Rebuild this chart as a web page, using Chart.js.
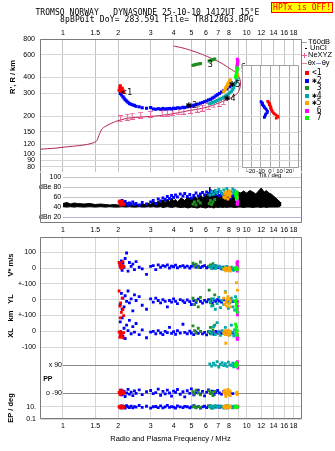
<!DOCTYPE html>
<html>
<head>
<meta charset="utf-8">
<title>Tromso dynasonde ionogram</title>
<script src="https://cdn.jsdelivr.net/npm/chart.js@4.4.1/dist/chart.umd.min.js"></script>
<style>
  html, body { margin:0; padding:0; background:#fff; }
  #page { position:relative; width:335px; height:451px; overflow:hidden; background:#fff; }
  #page canvas { position:absolute; left:0; top:0; }
  .txt { position:absolute; white-space:pre; line-height:10px; height:10px; color:#000;
         font-family:"Liberation Sans", Arial, sans-serif; font-size:7px; }
  .mono { font-family:"DejaVu Sans Mono", monospace; font-size:8px; }
  .vt { transform:translate(-50%,-50%) rotate(-90deg); font-size:7.5px; font-weight:bold; }
  .mark { position:absolute; }
</style>
</head>
<body>
<div id="page">
  <canvas id="cHeight" width="335" height="451"></canvas>
  <canvas id="cTilt" width="335" height="451"></canvas>
  <canvas id="cAmp" width="335" height="451"></canvas>
  <canvas id="cDrift" width="335" height="451"></canvas>
</div>
<script>
// ---------------- axis ticks ----------------
const FREQ_TICKS = [1, 1.5, 2, 3, 4, 5, 6, 7, 8, 9, 10, 12, 14, 16, 18];
const FREQ_LABELS_TOP = ['1', '1.5', '2', '3', '4', '5', '6', '7', '8', '', '10', '12', '14', '16', '18'];
const FREQ_LABELS_MID = ['1', '1.5', '2', '3', '4', '5', '6', '7', '8', '9', '10', '12', '14', '16', '18'];
const FREQ_LABELS_BOTTOM = ['1', '1.5', '2', '3', '4', '5', '6', '7', '8', '', '10', '12', '14', '16', '18'];
const RANGE_TICKS = [80, 90, 100, 120, 150, 200, 300, 400, 600, 800];
const AMP_TICKS = [100, 80, 60, 40, 20];
const AMP_LABELS = ['100', 'dBe 80', '60', '40', 'dBn 20'];
const TILT_TICKS = [-20, -10, 0, 10, 20];

// ---------------- echo classes ----------------
const CLASS_NAMES = ['<1', '\u27312', '3', '\u27314', '\u27315', '6', '7'];
const CLASS_COLORS = ['#ff0000', '#0000ff', '#1f8f1f', '#00a8a8', '#ffa500', '#ff00ff', '#00ff00'];

// class 1 (red)
const c1Freq = [2.02, 2.04, 2.05, 2.06, 2.08, 2.1, 2.12, 2.14];
const c1Range = [318, 335, 345, 326, 312, 330, 318, 306];
const c1Amp = [50, 52, 46, 44, 49, 51, 47, 45];
const c1Vstar = [35, 20, 5, 28, -2, 15, 40, 10];
const c1YL = [55, -40, -115, -20, -80, 10, -60, -100];
const c1XL = [-5, -38, -20, 0, -30, -12, -40, -8];
const c1PP = [-85, -95, -70, -100, -80, -92, -75, -88];
const c1EP = [12, 6, 9, 18, 11, 5, 15, 8];

// class 2 (blue)
const c2Freq = [2.05, 2.08, 2.1, 2.12, 2.15, 2.18, 2.22, 2.26, 2.3, 2.35, 2.4, 2.45, 2.5, 2.6, 2.7, 2.85, 3.0, 3.1, 3.2, 3.3,
  3.4, 3.5, 3.6, 3.7, 3.8, 3.9, 4.0, 4.1, 4.2, 4.35, 4.5, 4.6, 4.75, 4.9, 5.0, 5.15, 5.3, 5.45, 5.6, 5.75,
  5.9, 6.05, 6.2, 6.35, 6.5, 6.65, 6.8, 6.95, 7.1, 7.3, 7.5, 7.8, 8.1, 8.4];
const c2Range = [300, 292, 305, 283, 276, 268, 262, 256, 250, 247, 244, 242, 238, 236, 232, 230, 233, 227, 226, 228,
  226, 229, 227, 228, 229, 227, 230, 229, 232, 231, 234, 233, 236, 238, 240, 243, 246, 248, 252, 255,
  259, 262, 267, 270, 276, 281, 288, 294, 300, 308, 316, 326, 338, 352];
const c2Amp = [50, 47, 53, 49, 45, 51, 47, 44, 48, 46, 50, 45, 47, 44, 49, 46, 50, 53, 47, 56,
  52, 58, 55, 61, 57, 63, 59, 64, 60, 66, 62, 67, 61, 65, 58, 63, 68, 62, 66, 69,
  64, 70, 67, 72, 68, 71, 65, 69, 63, 67, 60, 64, 58, 62];
const c2Vstar = [20, 45, -15, 30, 5, 60, 95, -20, 35, 10, 25, -10, 40, 5, -5, -40, 10, 15, -10, 20,
  5, 15, 10, 20, 0, 12, 8, 18, 2, 10, 15, 5, 12, 0, 10, 18, 6, 12, 3, 10,
  15, 2, 8, 12, 0, 5, 14, 3, 8, -5, 5, -10, 0, -8];
const c2YL = [-30, 40, -60, 10, -45, 25, -10, 55, -20, 5, -70, 30, -5, 20, -35, -60, 5, -15, 10, -5,
  -20, 0, -10, -45, -5, -15, 5, -10, -25, 0, -8, -18, -2, -12, -30, -6, -16, 4, -10, -22,
  -4, -14, 0, -8, -20, -3, -12, 2, -8, -15, 0, -10, -5, -12];
const c2XL = [60, -10, 85, -30, 20, -45, 40, 5, 70, -15, 30, -5, 50, -20, 10, -40, -5, 0, -15, 5,
  -10, -20, 0, -8, 25, -12, -2, -18, 4, -10, 45, -6, -15, 2, -10, -20, -4, -12, 0, -16,
  -6, -22, -2, -12, -8, -18, 0, -10, -4, -14, -6, -12, -2, -10];
const c2PP = [-85, -70, -100, -92, -78, -110, -88, -65, -95, -82, -105, -75, -90, -68, -98, -80, -72, -92, -86, -64,
  -102, -78, -94, -70, -88, -108, -76, -84, -66, -96, -80, -112, -74, -90, -62, -100, -86, -70, -94, -78,
  -106, -82, -68, -92, -76, -98, -84, -72, -88, -95, -80, -90, -85, -92];
const c2EP = [10, 6, 18, 8, 14, 5, 20, 10, 7, 16, 6, 12, 9, 22, 8, 15, 5, 11, 13, 7,
  19, 6, 10, 24, 8, 12, 9, 5, 17, 10, 7, 14, 11, 6, 10, 21, 8, 13, 5, 10,
  15, 7, 18, 10, 6, 12, 9, 16, 8, 11, 10, 6, 14, 8];

// class 3 (green)
const c3Freq = [5.1, 5.2, 5.3, 5.45, 5.6, 6.25, 6.35, 6.45, 6.55, 6.7];
const c3Range = [498, 502, 506, 510, 514, 538, 544, 548, 553, 558];
const c3Amp = [46, 50, 44, 52, 48, 47, 53, 45, 50, 55];
const c3Vstar = [30, 10, 25, 5, 38, 12, 20, 0, 28, 15];
const c3YL = [10, -30, -5, -45, 15, 60, -20, 5, -35, 30];
const c3XL = [35, 5, -10, 20, 0, -5, 25, -15, 10, 40];
const c3PP = [-80, -95, -70, -88, -100, -75, -92, -84, -105, -78];
const c3EP = [10, 18, 6, 12, 8, 14, 20, 5, 10, 16];

// class 4 (teal)
const c4Freq = [6.3, 6.45, 6.6, 6.75, 6.9, 7.05, 7.2, 7.35, 7.5, 7.65, 7.8, 7.95, 8.1, 8.25, 8.4, 8.5, 8.6, 8.7, 8.8, 8.85];
const c4Range = [250, 253, 257, 260, 264, 268, 272, 276, 281, 286, 291, 297, 304, 312, 322, 334, 348, 362, 378, 395];
const c4Amp = [64, 70, 66, 73, 68, 75, 71, 66, 74, 69, 77, 72, 65, 70, 76, 68, 73, 63, 70, 66];
const c4Vstar = [10, 2, 15, -4, 8, 12, 0, 6, -8, 4, 10, -2, -12, 5, -6, -15, 0, -10, 3, -5];
const c4YL = [-10, -40, 5, -60, -25, 15, -50, -5, -30, 50, -15, -55, -20, 10, -45, -8, -65, 20, -30, -12];
const c4XL = [0, -15, 30, -20, 55, -8, -25, 5, -12, 25, -18, 2, -22, 40, -5, -28, 10, -15, -8, -20];
const c4PP = [95, 82, 100, 88, 110, 76, 92, 104, 85, 98, 80, 107, 90, 86, 101, 78, 95, 88, 92, 84];
const c4EP = [10, 16, 6, 20, 12, 8, 18, 14, 5, 10, 22, 7, 12, 16, 6, 14, 9, 19, 8, 12];

// class 5 (orange)
const c5Freq = [7.5, 7.6, 7.65, 7.7, 7.8, 7.85, 7.9, 8.0, 8.05, 8.1, 8.15, 8.8, 8.85, 8.9];
const c5Range = [310, 318, 326, 334, 342, 350, 357, 364, 370, 376, 383, 405, 412, 420];
const c5Amp = [60, 66, 58, 70, 63, 68, 56, 65, 72, 61, 67, 55, 62, 58];
const c5Vstar = [-5, -12, 0, -18, -8, -3, -15, -10, 2, -6, -20, -4, -12, -2];
const c5YL = [10, -30, 45, -15, -40, 0, 20, -25, 5, -45, -10, 107, -20, 60];
const c5XL = [-10, 5, -20, -75, 0, -15, 8, -25, -5, -12, 2, -18, -8, -30];
const c5PP = [-85, -70, -95, -110, -80, -92, -65, -100, -88, -75, -105, -90, -82, -98];
const c5EP = [9, 15, 6, 20, 10, 12, 5, 17, 8, 14, 10, 6, 11, 18];

// class 6 (magenta)
const c6Freq = [8.85, 8.88, 8.9, 8.92, 8.95, 8.9];
const c6Range = [480, 495, 510, 525, 540, 555];
const c6Amp = [46, 52, 48, 55, 50, 45];
const c6Vstar = [30, 10, -20, 40, 0, 20];
const c6YL = [-20, -60, -95, -40, -80, -10];
const c6XL = [-35, -48, -20, -50, -40, -30];
const c6PP = [95, 80, 110, 88, 70, 100];
const c6EP = [10, 12, 9, 11, 13, 8];

// class 7 (lime)
const c7Freq = [8.7, 8.75, 8.78, 8.8, 8.83, 8.86, 8.88];
const c7Range = [402, 412, 425, 438, 450, 462, 475];
const c7Amp = [66, 60, 70, 56, 64, 68, 58];
const c7Vstar = [-5, 0, -10, 5, -8, -2, -12];
const c7YL = [-10, -40, -70, 0, -25, -55, -80];
const c7XL = [45, 20, -10, 30, -20, 5, -25];
const c7PP = [90, 100, 85, 105, 78, 95, 88];
const c7EP = [11, 9, 13, 10, 12, 8, 10];

// trace tags: anchor frequency (MHz) and virtual range (km)
const TAG_FREQ = [2.06, 4.65, 6.13, 7.5, 7.98, 9.27, 9.27];
const TAG_RANGE = [305, 240, 501, 272, 350, 479, 415];

// ---------------- electron density profile (NeXYZ) ----------------
const profFreq = [0.75, 0.9, 1.06, 1.2, 1.36, 1.45, 1.51, 1.54, 1.57, 1.6, 1.64, 1.74, 1.93, 2.24, 2.76, 3.2, 3.7, 4.37, 4.9, 5.4,
  5.9, 6.4, 6.9, 7.4, 7.9, 8.4, 8.9, 9.15, 9.25, 9.2, 9.0, 8.6, 8.0, 7.5, 7.0, 6.5, 6.0, 5.5, 5.0, 4.5, 4.0];
const profHeight = [110, 112, 115, 117, 120, 123, 126, 131, 141, 151, 160, 169, 181, 192, 197, 200, 205, 214, 221, 226,
  232, 240, 250, 260, 270, 283, 300, 325, 355, 385, 415, 445, 475, 505, 535, 560, 590, 620, 650, 680, 706];
const neFreq = [2.06, 2.24, 2.38, 2.65, 3.0, 3.47, 3.7, 3.94, 4.28, 4.55, 4.96, 5.4, 5.74, 6.23, 6.63, 7.07, 7.5];
const neHeight = [190, 196, 200, 203, 206, 209, 211, 213, 216, 218, 221, 226, 230, 237, 244, 251, 259];

// ---------------- tilt inset ----------------
const tiltHtX = [261, 257, 253, 248, 244, 239, 234, 230, 225, 221, 217, 212, 208, 204, 200, 196, 193];
const tiltX = [-2.5, -1.6, -0.8, -0.2, -0.6, 0.4, 1.0, 0.7, 1.5, 2.0, 2.4, 3.6, 4.6, 6.2, 8.0, 8.6, 6.6];
const tiltHtY = [259, 255, 251, 246, 241, 237, 232, 228, 223, 218, 213, 208, 204, 199, 195];
const tiltY = [-9.5, -8.6, -7.8, -8.2, -7.0, -6.2, -5.6, -4.4, -3.6, -2.6, -3.0, -4.2, -4.9, -5.4, -6.0];

// ---------------- unclassified amplitude band ----------------
const noiseFreq = [1.0, 1.05, 1.1, 1.15, 1.2, 1.3, 1.4, 1.5, 1.6, 1.7, 1.8, 1.9, 2.0, 2.1, 2.2, 2.3, 2.4, 2.5, 2.6, 2.7,
  2.8, 2.9, 3.0, 3.1, 3.2, 3.3, 3.4, 3.5, 3.6, 3.7, 3.8, 3.9, 4.0, 4.1, 4.2, 4.4, 4.6, 4.8, 5.0, 5.2,
  5.4, 5.6, 5.8, 6.0, 6.2, 6.3, 6.4, 6.6, 6.8, 7.0, 7.2, 7.4, 7.6, 7.8, 8.0, 8.3, 8.6, 9.0, 9.3, 9.6,
  10.0, 10.4, 10.8, 11.2, 11.6, 12.0, 12.2, 12.5, 12.8, 13.2, 13.6, 14.0, 14.4, 14.8, 15.2, 15.3];
const noiseTop = [47, 49, 46, 48, 47, 46, 47, 45, 46, 45, 44, 45, 44, 45, 44, 46, 44, 45, 44, 46,
  45, 48, 45, 50, 47, 52, 48, 54, 49, 56, 50, 58, 52, 55, 50, 58, 53, 60, 55, 62,
  56, 64, 58, 66, 60, 80, 62, 62, 68, 60, 66, 62, 70, 64, 68, 62, 66, 70, 68, 72,
  68, 73, 70, 66, 72, 78, 74, 70, 73, 68, 66, 62, 58, 54, 50, 42];
const noiseBottom = [41, 40, 41, 40, 41, 40, 41, 40, 41, 40, 41, 40, 40, 41, 40, 41, 40, 40, 41, 40,
  40, 41, 40, 41, 40, 40, 41, 39, 40, 41, 40, 39, 40, 41, 40, 39, 40, 38, 40, 39,
  38, 40, 39, 38, 40, 39, 40, 38, 40, 39, 40, 39, 40, 39, 40, 40, 39, 40, 40, 39,
  40, 40, 39, 40, 40, 39, 40, 40, 39, 40, 40, 40, 40, 40, 41, 41];

// ---------------- stacked drift bands (panel units) ----------------
const BAND_V = 0, BAND_YL = -200, BAND_XL = -400, BAND_PP = -701, BAND_EP = -903, EP_DECADE = 26;

// =====================================================================
const echoClasses = [
  { f: c1Freq, r: c1Range, a: c1Amp, v: c1Vstar, yl: c1YL, xl: c1XL, pp: c1PP, ep: c1EP },
  { f: c2Freq, r: c2Range, a: c2Amp, v: c2Vstar, yl: c2YL, xl: c2XL, pp: c2PP, ep: c2EP },
  { f: c3Freq, r: c3Range, a: c3Amp, v: c3Vstar, yl: c3YL, xl: c3XL, pp: c3PP, ep: c3EP },
  { f: c4Freq, r: c4Range, a: c4Amp, v: c4Vstar, yl: c4YL, xl: c4XL, pp: c4PP, ep: c4EP },
  { f: c5Freq, r: c5Range, a: c5Amp, v: c5Vstar, yl: c5YL, xl: c5XL, pp: c5PP, ep: c5EP },
  { f: c6Freq, r: c6Range, a: c6Amp, v: c6Vstar, yl: c6YL, xl: c6XL, pp: c6PP, ep: c6EP },
  { f: c7Freq, r: c7Range, a: c7Amp, v: c7Vstar, yl: c7YL, xl: c7XL, pp: c7PP, ep: c7EP }
];
const drawOrder = i => (i === 1 ? 20 : 10 - i);   // blue underneath the rest
const pts = (xs, ys, map) => xs.map((x, i) => ({ x, y: map ? map(ys[i]) : ys[i] }));

Chart.defaults.font.family = '"Liberation Sans", Arial, sans-serif';
Chart.defaults.font.size = 7;
Chart.defaults.color = '#000';
Chart.defaults.animation = false;
Chart.defaults.responsive = false;
Chart.defaults.devicePixelRatio = 1;
Chart.defaults.events = [];
Chart.defaults.plugins.legend.display = false;
Chart.defaults.plugins.tooltip.enabled = false;

// box around a plot area, side by side
Chart.register({
  id: 'frame',
  afterDraw(chart, args, opts) {
    if (!opts.sides) return;
    const { ctx, chartArea: a } = chart;
    const l = Math.round(a.left) + 0.5, r = Math.round(a.right) - 0.5;
    const t = Math.round(a.top) + 0.5, b = Math.round(a.bottom) - 0.5;
    ctx.save();
    ctx.strokeStyle = opts.color || '#7a7a7a';
    ctx.lineWidth = 1;
    ctx.beginPath();
    if (opts.sides.includes('t')) { ctx.moveTo(l, t); ctx.lineTo(r, t); }
    if (opts.sides.includes('b')) { ctx.moveTo(l, b); ctx.lineTo(r, b); }
    if (opts.sides.includes('l')) { ctx.moveTo(l, t); ctx.lineTo(l, b); }
    if (opts.sides.includes('r')) { ctx.moveTo(r, t); ctx.lineTo(r, b); }
    ctx.stroke();
    ctx.restore();
  }
});

// horizontal reference lines that start at a given frequency
Chart.register({
  id: 'refLines',
  beforeDatasetsDraw(chart, args, opts) {
    if (!opts.values) return;
    const { ctx, chartArea: a, scales: { x, y } } = chart;
    const x0 = Math.round(x.getPixelForValue(opts.fromFreq));
    ctx.save();
    ctx.lineWidth = 1;
    opts.values.forEach((v, i) => {
      const py = Math.round(y.getPixelForValue(v)) + 0.5;
      ctx.strokeStyle = opts.colors[i];
      ctx.beginPath(); ctx.moveTo(x0, py); ctx.lineTo(a.right, py); ctx.stroke();
    });
    ctx.restore();
  }
});

// text placed inside a plot at given data values
Chart.register({
  id: 'innerText',
  afterDatasetsDraw(chart, args, opts) {
    if (!opts.items) return;
    const { ctx, scales: { x, y } } = chart;
    ctx.save();
    ctx.fillStyle = '#000';
    ctx.textBaseline = 'middle';
    opts.items.forEach(it => {
      ctx.font = it.font;
      ctx.textAlign = it.align || 'left';
      ctx.fillText(it.text, x.getPixelForValue(it.x) + (it.dx || 0), y.getPixelForValue(it.y));
    });
    ctx.restore();
  }
});

// white backing for the inset
Chart.register({
  id: 'areaFill',
  beforeDraw(chart, args, opts) {
    if (!opts.color) return;
    const { ctx, chartArea: a } = chart;
    ctx.save(); ctx.fillStyle = opts.color;
    ctx.fillRect(a.left, a.top, a.right - a.left, a.bottom - a.top);
    ctx.restore();
  }
});

function freqAxis(position, labels, gridColor, pad) {
  return {
    type: 'logarithmic', position, min: 0.75, max: 20,
    afterBuildTicks: s => { s.ticks = FREQ_TICKS.map(v => ({ value: v })); },
    afterFit: s => { s.height = labels ? 12 : 0; },
    ticks: {
      display: !!labels, autoSkip: false, maxRotation: 0, minRotation: 0, padding: pad,
      callback: v => (labels ? (labels[FREQ_TICKS.indexOf(v)] || '') : '')
    },
    grid: { display: !!gridColor, color: gridColor || 'transparent', drawTicks: false },
    border: { display: false }
  };
}

// I-shaped marker for the NeXYZ profile points
const errBar = document.createElement('canvas');
errBar.width = 5; errBar.height = 7;
(function () {
  const g = errBar.getContext('2d');
  g.fillStyle = '#e8609c';
  g.fillRect(0, 0, 5, 1); g.fillRect(0, 6, 5, 1); g.fillRect(2, 0, 1, 7);
})();

// ---------------- virtual range panel ----------------
new Chart(document.getElementById('cHeight'), {
  type: 'scatter',
  data: {
    datasets: [
      ...echoClasses.map((c, i) => ({
        data: pts(c.f, c.r), backgroundColor: CLASS_COLORS[i], pointStyle: 'rect',
        pointRadius: 2.2, borderWidth: 0, order: drawOrder(i)
      })),
      { data: pts(neFreq, neHeight), pointStyle: errBar, pointRadius: 3, order: 25 },
      { data: pts(profFreq, profHeight), showLine: true, borderColor: '#b0204c', borderWidth: 1,
        pointRadius: 0, tension: 0.25, order: 30 }
    ]
  },
  options: {
    layout: { padding: { left: 0, right: 33, top: 27, bottom: 279 } },
    scales: {
      x: freqAxis('top', FREQ_LABELS_TOP, '#c2c2c2', 2),
      y: {
        type: 'logarithmic', min: 73, max: 800,
        afterBuildTicks: s => { s.ticks = RANGE_TICKS.map(v => ({ value: v })); },
        afterFit: s => { s.width = 40; },
        ticks: { padding: 5, autoSkip: false, callback: v => String(v) },
        grid: { color: '#d6d6d6', drawTicks: false },
        border: { display: false }
      }
    },
    plugins: {
      frame: { sides: 'tlr' },
      innerText: {
        items: CLASS_NAMES.map((n, i) => ({ text: n, x: TAG_FREQ[i], y: TAG_RANGE[i], font: '8px "DejaVu Sans"' }))
      }
    }
  }
});

// ---------------- tilt inset ----------------
new Chart(document.getElementById('cTilt'), {
  type: 'scatter',
  data: {
    datasets: [
      { data: pts(tiltX, tiltHtX), backgroundColor: '#ff0000', pointStyle: 'rect', pointRadius: 1.9, borderWidth: 0 },
      { data: pts(tiltY, tiltHtY), backgroundColor: '#0000ff', pointStyle: 'rect', pointRadius: 1.9, borderWidth: 0 }
    ]
  },
  options: {
    layout: { padding: { left: 241.5, right: 36.5, top: 65, bottom: 275.3 } },
    scales: {
      x: {
        type: 'linear', min: -30, max: 30,
        afterBuildTicks: s => { s.ticks = TILT_TICKS.map(v => ({ value: v })); },
        afterFit: s => { s.height = 8; },
        ticks: { font: { size: 6 }, padding: 0, autoSkip: false, maxRotation: 0 },
        grid: { color: '#a8a8a8', drawTicks: false },
        border: { display: false }
      },
      y: {
        type: 'logarithmic', min: 79, max: 501,
        afterBuildTicks: s => { s.ticks = RANGE_TICKS.filter(v => v < 501).map(v => ({ value: v })); },
        afterFit: s => { s.width = 0; },
        ticks: { display: false },
        grid: { color: '#d6d6d6', drawTicks: false },
        border: { display: false }
      }
    },
    plugins: { areaFill: { color: '#ffffff' }, frame: { sides: 'tblr', color: '#a0a0a0' } }
  }
});

// ---------------- echo amplitude panel ----------------
new Chart(document.getElementById('cAmp'), {
  type: 'scatter',
  data: {
    datasets: [
      ...echoClasses.map((c, i) => ({
        data: pts(c.f, c.a), backgroundColor: CLASS_COLORS[i], pointStyle: 'rect',
        pointRadius: 2.0, borderWidth: 0, order: drawOrder(i)
      })),
      { data: pts(noiseFreq, noiseTop), showLine: true, borderColor: '#000', borderWidth: 1, pointRadius: 0,
        backgroundColor: '#000', fill: '+1', order: 40 },
      { data: pts(noiseFreq, noiseBottom), showLine: true, borderColor: '#000', borderWidth: 1, pointRadius: 0, order: 41 }
    ]
  },
  options: {
    layout: { padding: { left: 0, right: 33, top: 172, bottom: 216.3 } },
    scales: {
      x: freqAxis('bottom', FREQ_LABELS_MID, null, 3),
      y: {
        type: 'linear', min: 8.6, max: 110,
        afterBuildTicks: s => { s.ticks = AMP_TICKS.map(v => ({ value: v })); },
        afterFit: s => { s.width = 40; },
        ticks: { mirror: true, crossAlign: 'far', padding: -1, callback: v => AMP_LABELS[AMP_TICKS.indexOf(v)] },
        grid: { display: false, drawTicks: false },
        border: { display: false }
      }
    },
    plugins: {
      frame: { sides: 'blr' },
      refLines: { fromFreq: 1, values: AMP_TICKS, colors: ['#c4c4cc', '#c4c4cc', '#c4c4cc', '#c4c4cc', '#b4b4e0'] }
    }
  }
});

// ---------------- drift velocity / location / polarization panel ----------------
const driftTicks = [
  { v: BAND_V + 100, l: '100' }, { v: BAND_V, l: '0' }, { v: BAND_V - 100, l: '+-100' },
  { v: BAND_YL, l: '0' }, { v: BAND_YL - 100, l: '+-100' },
  { v: BAND_XL, l: '0' }, { v: BAND_XL - 100, l: '-100' },
  { v: BAND_PP + 90, l: '' }, { v: BAND_PP - 90, l: '' },
  { v: BAND_EP + EP_DECADE, l: '10.' }, { v: BAND_EP - 2 * EP_DECADE, l: '0.1' }
];
const epRow = e => BAND_EP + EP_DECADE * Math.log10(e);

new Chart(document.getElementById('cDrift'), {
  type: 'scatter',
  data: {
    datasets: echoClasses.map((c, i) => ({
      data: [
        ...pts(c.f, c.v, v => BAND_V + v),
        ...pts(c.f, c.yl, v => BAND_YL + v),
        ...pts(c.f, c.xl, v => BAND_XL + v),
        ...pts(c.f, c.pp, v => BAND_PP + v),
        ...pts(c.f, c.ep, epRow)
      ],
      backgroundColor: CLASS_COLORS[i], pointStyle: 'rect', pointRadius: 2.0, borderWidth: 0, order: drawOrder(i)
    }))
  },
  options: {
    layout: { padding: { left: 0, right: 33, top: 237.3, bottom: 19.7 } },
    scales: {
      x: freqAxis('bottom', FREQ_LABELS_BOTTOM, '#d6d6d6', 3),
      y: {
        type: 'linear', min: -955, max: 194,
        afterBuildTicks: s => { s.ticks = driftTicks.map(t => ({ value: t.v })); },
        afterFit: s => { s.width = 40; },
        ticks: { padding: 4, autoSkip: false, callback: v => (driftTicks.find(t => t.v === v) || { l: '' }).l },
        grid: {
          drawTicks: false,
          color: c => (c.tick && (c.tick.value === BAND_PP + 90 || c.tick.value === BAND_PP - 90)) ? 'transparent' : '#d6d6d6'
        },
        border: { display: false }
      }
    },
    plugins: {
      frame: { sides: 'tblr' },
      refLines: { fromFreq: 1, values: [BAND_PP + 90, BAND_PP - 90], colors: ['#8c8c8c', '#8c8c8c'] },
      innerText: {
        items: [
          { text: 'x 90', x: 1, y: BAND_PP + 90, dx: -1, align: 'right', font: '7px "Liberation Sans"' },
          { text: 'o -90', x: 1, y: BAND_PP - 90, dx: -1, align: 'right', font: '7px "Liberation Sans"' },
          { text: 'PP', x: 0.78, y: BAND_PP, align: 'left', font: 'bold 7px "Liberation Sans"' }
        ]
      }
    }
  }
});

// ---------------- header, titles and legends ----------------
const page = document.getElementById('page');
function addText(text, x, y, cls, style) {
  const d = document.createElement('div');
  d.className = 'txt ' + (cls || '');
  d.textContent = text;
  d.style.left = x + 'px';
  d.style.top = y + 'px';
  Object.assign(d.style, style || {});
  page.appendChild(d);
  return d;
}
function addMark(x, y, w, h, color) {
  const d = document.createElement('div');
  d.className = 'mark';
  Object.assign(d.style, { left: x + 'px', top: y + 'px', width: w + 'px', height: h + 'px', background: color });
  page.appendChild(d);
}

addText('TROMSO NORWAY   DYNASONDE 25-10-10 1412UT 15\u00B0E', 35.5, 7.5, 'mono', { letterSpacing: '0.05px' });
addText('8pBP6It DoY= 283.591 File= TR812863.BPG', 60, 15.2, 'mono', { letterSpacing: '0.15px' });
addText('HPTx is OFF!', 271, 1.5, 'mono', {
  width: '62px', height: '11px', lineHeight: '9px', textAlign: 'center', color: '#ff0000',
  background: '#ffff00', border: '1px solid #ff0000', boxSizing: 'border-box'
});

addText("R', R / km", 13, 76.5, 'vt');
addText('V* m/s', 10.5, 265, 'vt');
addText('YL', 10.5, 299, 'vt');
addText('km', 10.5, 315.5, 'vt');
addText('XL', 10.5, 333, 'vt');
addText('EP / deg', 10.5, 408, 'vt');
addText('Radio and Plasma Frequency / MHz', 170.5, 433.7, '', { fontSize: '7.5px', transform: 'translateX(-50%)' });
addText('Tilt / deg', 270, 170, '', { fontSize: '6px', transform: 'translateX(-50%)' });

// line / marker key
addMark(301.5, 42, 5.5, 1, '#a0a0a0');
addText('T60dB', 308, 37.3, '', { fontSize: '7.5px' });
addMark(305, 47.5, 1.5, 1.5, '#000');
addText('UnCl', 310, 43.3, '', { fontSize: '7.5px' });
addMark(301.5, 54.5, 5.5, 1, '#e8609c');
addMark(303.7, 52.5, 1, 5, '#e8609c');
addText('NeXYZ', 308, 50, '', { fontSize: '7.5px' });
addMark(301.5, 63, 5.5, 1, '#e08a9a');
addText('\u03B8x', 307.7, 58.3, '', { fontSize: '7.5px' });
addMark(316, 63, 5, 1, '#8c8cd8');
addText('\u03B8y', 321.7, 58.3, '', { fontSize: '7.5px' });

// echo class key
CLASS_NAMES.forEach((n, i) => {
  const y = 73.3 + i * 7.45;
  addMark(305, y - 2, 4, 4, CLASS_COLORS[i]);
  addText(n.padStart(2, ' '), 312, y - 5, 'mono');
});
</script>
</body>
</html>
